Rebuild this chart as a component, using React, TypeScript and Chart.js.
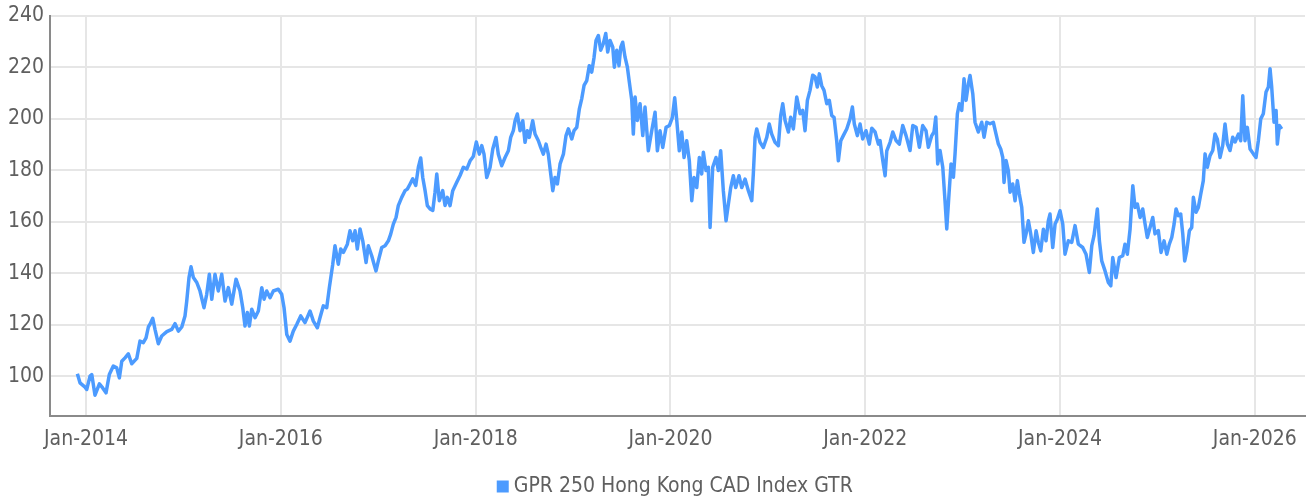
import React, { useEffect, useRef } from 'react';
import { Chart, registerables } from 'chart.js';

Chart.register(...registerables);

const SERIES_LABEL = 'GPR 250 Hong Kong CAD Index GTR';

// Dates as decimal years
const DATES = [
  2013.911, 2013.938, 2013.990, 2014.007, 2014.041, 2014.059, 2014.092, 2014.137, 2014.171, 2014.205,
  2014.239, 2014.280, 2014.315, 2014.342, 2014.367, 2014.400, 2014.434, 2014.469, 2014.521, 2014.554,
  2014.588, 2014.616, 2014.640, 2014.657, 2014.685, 2014.708, 2014.742, 2014.777, 2014.829, 2014.880,
  2014.914, 2014.948, 2014.983, 2015.016, 2015.034, 2015.057, 2015.078, 2015.102, 2015.137, 2015.170,
  2015.211, 2015.239, 2015.266, 2015.291, 2015.324, 2015.358, 2015.393, 2015.427, 2015.461, 2015.496,
  2015.540, 2015.581, 2015.609, 2015.632, 2015.656, 2015.677, 2015.701, 2015.735, 2015.769, 2015.804,
  2015.828, 2015.855, 2015.889, 2015.923, 2015.974, 2016.009, 2016.033, 2016.061, 2016.094, 2016.128,
  2016.163, 2016.204, 2016.248, 2016.300, 2016.334, 2016.375, 2016.402, 2016.436, 2016.471, 2016.498,
  2016.533, 2016.556, 2016.590, 2016.615, 2016.642, 2016.683, 2016.710, 2016.738, 2016.762, 2016.785,
  2016.813, 2016.841, 2016.875, 2016.898, 2016.933, 2016.957, 2016.977, 2017.001, 2017.036, 2017.070,
  2017.104, 2017.128, 2017.155, 2017.183, 2017.206, 2017.241, 2017.275, 2017.299, 2017.327, 2017.354,
  2017.385, 2017.412, 2017.436, 2017.457, 2017.481, 2017.504, 2017.532, 2017.560, 2017.583, 2017.601,
  2017.627, 2017.662, 2017.686, 2017.709, 2017.737, 2017.765, 2017.806, 2017.840, 2017.874, 2017.909,
  2017.943, 2017.976, 2018.007, 2018.038, 2018.063, 2018.086, 2018.114, 2018.148, 2018.176, 2018.209,
  2018.233, 2018.268, 2018.302, 2018.336, 2018.360, 2018.387, 2018.405, 2018.428, 2018.456, 2018.484,
  2018.507, 2018.531, 2018.551, 2018.586, 2018.610, 2018.644, 2018.668, 2018.695, 2018.723, 2018.746,
  2018.771, 2018.792, 2018.815, 2018.839, 2018.867, 2018.901, 2018.928, 2018.952, 2018.987, 2019.010,
  2019.038, 2019.065, 2019.089, 2019.113, 2019.141, 2019.167, 2019.192, 2019.216, 2019.236, 2019.260,
  2019.284, 2019.311, 2019.336, 2019.356, 2019.380, 2019.408, 2019.424, 2019.449, 2019.472, 2019.490,
  2019.510, 2019.534, 2019.558, 2019.578, 2019.603, 2019.619, 2019.637, 2019.660, 2019.688, 2019.716,
  2019.739, 2019.773, 2019.808, 2019.842, 2019.866, 2019.893, 2019.921, 2019.955, 2019.989, 2020.020,
  2020.044, 2020.065, 2020.091, 2020.116, 2020.140, 2020.167, 2020.194, 2020.219, 2020.242, 2020.270,
  2020.297, 2020.321, 2020.338, 2020.365, 2020.389, 2020.407, 2020.434, 2020.468, 2020.492, 2020.516,
  2020.543, 2020.571, 2020.595, 2020.619, 2020.646, 2020.670, 2020.704, 2020.732, 2020.766, 2020.800,
  2020.835, 2020.851, 2020.869, 2020.886, 2020.920, 2020.954, 2020.989, 2021.015, 2021.040, 2021.074,
  2021.108, 2021.132, 2021.153, 2021.177, 2021.211, 2021.235, 2021.262, 2021.297, 2021.331, 2021.358,
  2021.382, 2021.406, 2021.433, 2021.461, 2021.485, 2021.508, 2021.529, 2021.553, 2021.577, 2021.605,
  2021.631, 2021.656, 2021.680, 2021.707, 2021.724, 2021.749, 2021.775, 2021.810, 2021.844, 2021.868,
  2021.888, 2021.919, 2021.947, 2021.974, 2022.008, 2022.042, 2022.067, 2022.101, 2022.135, 2022.152,
  2022.180, 2022.204, 2022.221, 2022.255, 2022.283, 2022.316, 2022.350, 2022.385, 2022.419, 2022.460,
  2022.488, 2022.522, 2022.556, 2022.590, 2022.624, 2022.648, 2022.683, 2022.706, 2022.724, 2022.744,
  2022.768, 2022.796, 2022.819, 2022.837, 2022.860, 2022.881, 2022.905, 2022.922, 2022.946, 2022.966,
  2022.991, 2023.014, 2023.035, 2023.059, 2023.076, 2023.104, 2023.127, 2023.161, 2023.196, 2023.220,
  2023.247, 2023.281, 2023.315, 2023.343, 2023.367, 2023.391, 2023.412, 2023.425, 2023.446, 2023.469,
  2023.487, 2023.514, 2023.538, 2023.562, 2023.582, 2023.607, 2023.630, 2023.651, 2023.675, 2023.699,
  2023.726, 2023.754, 2023.777, 2023.802, 2023.829, 2023.856, 2023.880, 2023.897, 2023.925, 2023.949,
  2023.972, 2024.000, 2024.028, 2024.051, 2024.085, 2024.120, 2024.154, 2024.188, 2024.233, 2024.267,
  2024.301, 2024.326, 2024.349, 2024.383, 2024.404, 2024.428, 2024.462, 2024.496, 2024.521, 2024.541,
  2024.575, 2024.609, 2024.644, 2024.667, 2024.691, 2024.719, 2024.747, 2024.770, 2024.794, 2024.822,
  2024.849, 2024.873, 2024.896, 2024.924, 2024.952, 2024.975, 2025.009, 2025.037, 2025.068, 2025.096,
  2025.122, 2025.147, 2025.171, 2025.191, 2025.215, 2025.239, 2025.260, 2025.280, 2025.301, 2025.328,
  2025.352, 2025.369, 2025.396, 2025.420, 2025.445, 2025.471, 2025.489, 2025.512, 2025.540, 2025.568,
  2025.591, 2025.615, 2025.643, 2025.670, 2025.694, 2025.718, 2025.745, 2025.773, 2025.797, 2025.831,
  2025.855, 2025.876, 2025.899, 2025.923, 2025.951, 2025.985, 2026.012, 2026.036, 2026.061, 2026.087,
  2026.115, 2026.139, 2026.156, 2026.173, 2026.197, 2026.218, 2026.231, 2026.252, 2026.276,
];

const VALUES = [
  100.9, 97.4, 95.7, 94.8, 100, 100.6, 92.6, 97, 95.4, 93.5,
  100.6, 103.9, 103.2, 99.3, 105.8, 107.1, 108.7, 104.8, 106.9, 113.6,
  113, 114.9, 119.1, 120.2, 122.5, 118.2, 112.6, 115.6, 117.3, 118.2,
  120.4, 117.5, 119.1, 123.4, 129.2, 138.3, 142.5, 138.3, 136.4, 133.1,
  126.6, 131.8, 139.6, 129.9, 139.6, 133.1, 139.6, 129.2, 134.4, 128,
  137.7, 133.1, 126.6, 119.5, 124.7, 119.5, 126, 122.7, 125.3, 134.4,
  129.9, 133.1, 130.5, 133.1, 133.8, 131.8, 126.6, 116.2, 113.6, 117.5,
  120.1, 123.4, 120.8, 125.3, 121.4, 118.8, 122.7, 127.3, 126.6, 134.4,
  143.5, 150.7, 143.5, 149.4, 148.1, 151.3, 156.5, 152.6, 156.5, 149.4,
  157.2, 152.6, 144.2, 150.7, 146.8, 143.5, 140.9, 144.8, 150, 150.7,
  152.6, 155.2, 159.1, 161.7, 166.3, 169.5, 172.1, 172.7, 174.7, 176.7,
  174.1, 181.2, 184.8, 177.2, 172.1, 166.3, 165, 164.4, 171.5, 178.6,
  168.2, 172.1, 166.3, 169.5, 166.3, 172.1, 175.4, 178, 181.2, 180.5,
  183.7, 185.4, 191, 186.3, 189.6, 186.3, 177.2, 181.1, 188.3, 192.8,
  186.3, 181.8, 185, 187.6, 192.8, 195.4, 199.3, 201.9, 195.4, 199.3,
  190.9, 195.4, 192.8, 199.3, 194.1, 191.5, 188.9, 186.3, 190.2, 186.3,
  178.6, 172.1, 177.2, 174.7, 182.5, 186.3, 193.5, 196.1, 192.2, 195.4,
  196.7, 203.9, 207.8, 213, 214.9, 220.7, 218.2, 224, 230.5, 232.4,
  226.7, 229.3, 233.2, 226, 230.5, 227.9, 220.1, 226.7, 220.7, 227.9,
  229.8, 224, 220.1, 214.3, 207.2, 194.1, 208.5, 199.4, 205.9, 193.5,
  204.6, 187.6, 195.4, 202.6, 187.6, 195.4, 188.9, 196.7, 197.4, 200.6,
  208.2, 199.4, 187.6, 194.9, 185, 191.5, 183.7, 168.2, 177.2, 173.3,
  185, 178.6, 187, 179.9, 181.2, 157.8, 181.2, 185, 179.9, 187.6,
  172.1, 160.4, 166.9, 173.3, 177.9, 173.3, 177.9, 173.3, 176.6, 172.1,
  168.2, 178.6, 192.8, 196.1, 190.9, 188.9, 192.8, 198, 194.1, 190.9,
  189.6, 201.3, 205.9, 199.4, 194.9, 200.6, 196.1, 208.5, 202, 203.3,
  195.4, 207.2, 211.1, 217, 216.3, 212.4, 217.5, 212.9, 211.1, 205.9,
  207.2, 201.3, 200.6, 191.5, 183.7, 191.5, 193.5, 196.1, 200, 204.6,
  198, 193.5, 198, 192.2, 195.4, 190.2, 196.4, 194.9, 190.2, 191.6,
  183.8, 177.9, 187.6, 190.9, 194.9, 191.6, 190.2, 197.4, 193.5, 187.7,
  197.4, 196.7, 189, 197.4, 195.4, 189, 193.5, 194.9, 200.7, 182.5,
  187.7, 181.2, 168.2, 157.2, 170.8, 182.5, 177.3, 186.4, 202, 205.9,
  203.3, 215.6, 207.2, 213.6, 216.9, 209.8, 198.7, 194.9, 198.7, 192.9,
  198.7, 198.1, 198.7, 194.1, 190.2, 188.3, 185, 175.3, 183.8, 179.9,
  171.5, 174.7, 168.2, 176, 170.8, 165.6, 152, 155.3, 160.4, 155.3,
  148.1, 156.5, 152, 148.7, 157.1, 152.6, 160.4, 163, 150, 159.1,
  161, 164.3, 159.1, 147.4, 152.6, 152, 158.5, 151.3, 150, 147.4,
  140.3, 150.7, 154.6, 165, 152.6, 144.8, 140.9, 136.4, 135.1, 146.1,
  138.3, 146.1, 146.8, 151.3, 147.4, 157.1, 174, 165.6, 166.9, 161.7,
  165, 159.1, 153.9, 157.8, 161.7, 155.3, 156.6, 148.1, 152.6, 147.4,
  151.3, 153.9, 159.1, 165, 162.4, 163, 155.3, 144.8, 148.7, 156.5,
  157.8, 169.5, 163.7, 165.6, 170.8, 176, 186.4, 181.2, 185.7, 187.7,
  194.1, 192.1, 185, 189.6, 198, 190.2, 187.7, 192.9, 191, 194.1,
  191.5, 209, 191.5, 196.7, 188.3, 186.4, 185, 191.5, 200, 202,
  210.5, 212.4, 219.5, 212.4, 198.7, 203.3, 190.2, 197.4, 196.1,
];

const X_TICK_YEARS = [2014, 2016, 2018, 2020, 2022, 2024, 2026];
const Y_TICK_VALUES = [100, 120, 140, 160, 180, 200, 220, 240];
const X_RANGE = [2013.63, 2026.515];
const Y_RANGE = [84.5, 240];

const LINE_COLOR = '#4C9BFF';
const TEXT_COLOR = '#5f5f5f';
const GRID_COLOR = '#e6e6e6';
const AXIS_COLOR = '#8a8a8a';
const FONT_FAMILY = "'DejaVu Sans Condensed', 'Liberation Sans Narrow', 'Roboto Condensed', sans-serif";

export default function App() {
  const canvasRef = useRef<HTMLCanvasElement>(null);

  useEffect(() => {
    if (!canvasRef.current) return;
    const font = { family: FONT_FAMILY, size: 21 };
    const chart = new Chart(canvasRef.current, {
      type: 'line',
      data: {
        datasets: [
          {
            label: SERIES_LABEL,
            data: DATES.map((d, i) => ({ x: d, y: VALUES[i] })),
            borderColor: LINE_COLOR,
            backgroundColor: LINE_COLOR,
            borderWidth: 3.5,
            pointRadius: 0,
            tension: 0,
            borderJoinStyle: 'round',
            fill: false,
          },
        ],
      },
      options: {
        responsive: false,
        animation: false,
        layout: { padding: { top: 16, right: 1, left: 0, bottom: -7 } },
        plugins: {
          tooltip: { enabled: false },
          legend: {
            position: 'bottom',
            fullSize: false,
            labels: {
              font,
              color: TEXT_COLOR,
              usePointStyle: true,
              pointStyle: 'rect',
              boxWidth: 1,
              boxHeight: 12,
              padding: 10,
              generateLabels: (c: any) =>
                c.data.datasets.map((ds: any, i: number) => ({
                  text: ds.label,
                  fillStyle: LINE_COLOR,
                  strokeStyle: LINE_COLOR,
                  lineWidth: 0,
                  pointStyle: 'rect',
                  hidden: false,
                  datasetIndex: i,
                  fontColor: TEXT_COLOR,
                })),
            },
          },
        },
        scales: {
          x: {
            type: 'linear',
            min: X_RANGE[0],
            max: X_RANGE[1],
            afterBuildTicks: (s: any) => {
              s.ticks = X_TICK_YEARS.map((v) => ({ value: v }));
            },
            afterFit: (s: any) => {
              s.height = 50;
              s.paddingLeft = 0;
              s.paddingRight = 0;
            },
            ticks: {
              font,
              color: TEXT_COLOR,
              padding: 11,
              maxRotation: 0,
              autoSkip: false,
              callback: (v: any) => `Jan-${v}`,
            },
            grid: { color: GRID_COLOR, lineWidth: 2, drawTicks: false },
            border: { color: AXIS_COLOR, width: 2 },
          },
          y: {
            min: Y_RANGE[0],
            max: Y_RANGE[1],
            afterBuildTicks: (s: any) => {
              s.ticks = Y_TICK_VALUES.map((v) => ({ value: v }));
            },
            afterFit: (s: any) => {
              s.width = 50;
              s.paddingTop = 0;
              s.paddingBottom = 0;
            },
            ticks: {
              font,
              color: TEXT_COLOR,
              padding: 6,
              autoSkip: false,
              callback: (v: any) => `${v}`,
            },
            grid: { color: GRID_COLOR, lineWidth: 2, drawTicks: false },
            border: { color: AXIS_COLOR, width: 2 },
          },
        },
      },
    } as any);
    return () => chart.destroy();
  }, []);

  return (
    <div style={{ position: 'absolute', left: 0, top: 0, width: 1306, height: 500 }}>
      <canvas ref={canvasRef} width={1306} height={500} style={{ display: 'block' }} />
    </div>
  );
}
